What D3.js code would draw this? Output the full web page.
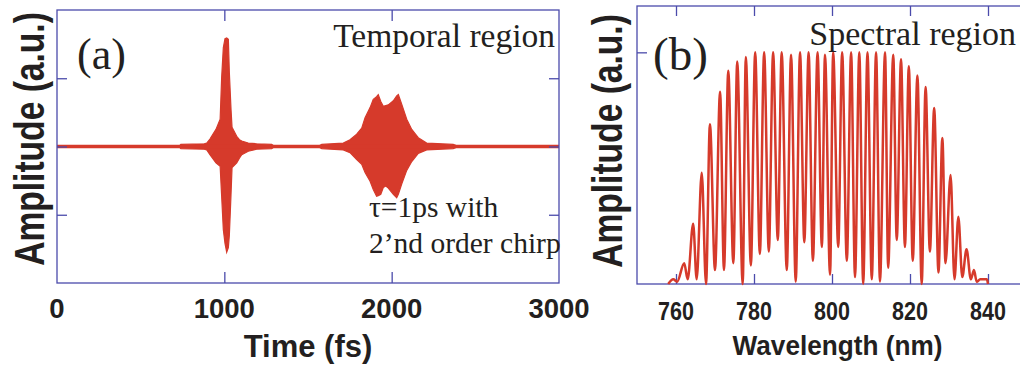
<!DOCTYPE html>
<html>
<head>
<meta charset="utf-8">
<script src="https://cdn.jsdelivr.net/npm/d3@7"></script>
<style>
  html, body { margin: 0; padding: 0; background: #fff; overflow: hidden; }
  svg { display: block; }
</style>
</head>
<body>
<svg id="chart" width="1020" height="367"></svg>
<script>
// (a) Temporal field: envelope of the fast carrier (time in fs, upper / lower bound in a.u.)
const pulseTime  = [0, 730, 740, 880, 895, 914, 950, 975, 984, 994, 1004, 1014, 1024, 1030, 1040, 1046,
                    1074, 1090, 1104, 1143, 1193, 1283, 1300, 1560, 1582, 1711, 1751, 1791, 1821, 1841,
                    1871, 1890, 1910, 1920, 1935, 1950, 1965, 1980, 2010, 2030, 2040, 2060, 2090, 2120,
                    2159, 2209, 2368, 2400, 3000];
const pulseUpper = [0, 0, 0.03, 0.04, 0.05, 0.11, 0.25, 0.40, 1.01, 1.45, 1.58, 1.59, 1.57, 1.08, 0.54, 0.28,
                    0.15, 0.10, 0.08, 0.05, 0.04, 0.03, 0, 0, 0.03, 0.05, 0.10, 0.18, 0.27, 0.42,
                    0.57, 0.69, 0.73, 0.76, 0.66, 0.59, 0.60, 0.61, 0.67, 0.74, 0.76, 0.62, 0.40, 0.25,
                    0.13, 0.05, 0.03, 0, 0];
const pulseLower = [0, 0, -0.03, -0.04, -0.05, -0.12, -0.24, -0.29, -0.73, -1.22, -1.42, -1.55, -1.48, -1.30, -0.70, -0.31,
                    -0.24, -0.17, -0.12, -0.07, -0.04, -0.03, 0, 0, -0.03, -0.05, -0.09, -0.19, -0.26, -0.38,
                    -0.51, -0.63, -0.73, -0.72, -0.70, -0.60, -0.58, -0.61, -0.70, -0.75, -0.70, -0.55, -0.35, -0.22,
                    -0.10, -0.05, -0.03, 0, 0];

// (b) Spectral fringes: successive maxima and minima (wavelength in nm, amplitude in a.u.)
const fringeWavelength = [758.0, 759.3, 760.3, 762.1, 763.0, 764.4, 765.3, 766.6, 767.7, 768.7, 770.0, 771.3,
                          772.3, 773.4, 774.7, 775.7, 777.1, 777.9, 779.2, 780.3, 781.5, 782.6, 783.8, 784.9,
                          786.1, 787.1, 788.4, 789.5, 790.7, 791.8, 792.9, 794.0, 795.1, 796.3, 797.4, 798.2,
                          799.5, 800.3, 801.6, 802.6, 803.8, 804.9, 805.9, 807.0, 808.0, 809.1, 810.2, 811.3,
                          812.3, 813.6, 814.4, 815.7, 816.6, 817.7, 818.7, 819.7, 820.7, 821.9, 823.0, 824.0,
                          825.1, 826.2, 827.3, 828.3, 829.1, 830.4, 831.4, 832.4, 833.4, 834.5, 835.6, 836.4,
                          837.1, 838.0, 839.7, 840.0];
const fringeAmplitude  = [0.00, 0.02, 0.01, 0.09, 0.02, 0.26, 0.02, 0.48, 0.00, 0.69, 0.06, 0.83,
                          0.06, 0.92, 0.09, 0.96, 0.00, 0.98, 0.08, 1.00, 0.13, 1.00, 0.14, 1.00,
                          0.19, 1.00, 0.06, 0.99, 0.01, 1.00, 0.18, 1.00, 0.10, 1.00, 0.16, 0.99,
                          0.04, 1.00, 0.16, 1.00, 0.10, 1.00, 0.03, 1.00, 0.00, 1.00, 0.02, 1.00,
                          0.01, 1.00, 0.07, 0.99, 0.19, 0.97, 0.16, 0.94, 0.10, 0.90, 0.00, 0.85,
                          0.14, 0.76, 0.05, 0.63, 0.09, 0.47, 0.02, 0.29, 0.03, 0.15, 0.02, 0.06,
                          0.01, 0.02, 0.02, 0.00];

// Axis ticks
const timeTicks = [0, 1000, 2000, 3000];
const timeInnerTicks = [1000, 2000];
const ampTicksA = [-1, 0, 1];
const wavelengthTicks = [760, 780, 800, 820, 840];
const ampTicksB = [1];

const RED = "#d63a2b";
const FRAME = "#4b4bab";
const INK = "#231f20";
const SANS = "'Liberation Sans', Arial, sans-serif";
const SERIF = "'Liberation Serif', 'Times New Roman', serif";

const svg = d3.select("#chart");
const defs = svg.append("defs");

// Bold sans label, optionally rotated and narrowed along its own direction
function sansLabel(g, x, y, txt, size, { rotate = 0, squeeze = 1, anchor = "middle" } = {}) {
  return g.append("text")
    .attr("transform", `translate(${x},${y}) rotate(${rotate}) scale(${squeeze},1)`)
    .attr("text-anchor", anchor)
    .attr("font-family", SANS).attr("font-weight", "bold").attr("font-size", size)
    .attr("fill", INK).text(txt);
}

function styleTicks(g) {
  g.select(".domain").remove();
  g.selectAll("line").attr("stroke", FRAME).attr("stroke-width", 1.3);
}

function frame(g, x, y) {
  const [x0, x1] = x.range();
  const [y0, y1] = y.range();
  g.append("rect")
    .attr("x", x0).attr("y", y1).attr("width", x1 - x0).attr("height", y0 - y1)
    .attr("fill", "none").attr("stroke", FRAME).attr("stroke-width", 1.3);
}

// ---------- Panel (a): temporal region ----------
const xA = d3.scaleLinear().domain([0, 3000]).range([57, 559]);
const yA = d3.scaleLinear().domain([-2, 2]).range([283, 10]);

defs.append("clipPath").attr("id", "clipA")
  .append("rect").attr("x", xA(0)).attr("y", yA(2))
  .attr("width", xA(3000) - xA(0)).attr("height", yA(-2) - yA(2));

const gA = svg.append("g");
const pulse = pulseTime.map((t, i) => ({ t, hi: pulseUpper[i], lo: pulseLower[i] }));

const plotA = gA.append("g").attr("clip-path", "url(#clipA)");
plotA.append("path")
  .datum(pulse)
  .attr("d", d3.area().x(d => xA(d.t)).y0(d => yA(d.lo)).y1(d => yA(d.hi)))
  .attr("fill", RED).attr("stroke", RED).attr("stroke-width", 1.2);
plotA.append("path")
  .datum(pulse)
  .attr("d", d3.line().x(d => xA(d.t)).y(() => yA(0)))
  .attr("fill", "none").attr("stroke", RED).attr("stroke-width", 3.5);

frame(gA, xA, yA);

gA.append("g").attr("transform", `translate(0,${yA(-2)})`)
  .call(d3.axisTop(xA).tickValues(timeInnerTicks).tickSize(11).tickFormat("")).call(styleTicks);
gA.append("g").attr("transform", `translate(0,${yA(2)})`)
  .call(d3.axisBottom(xA).tickValues(timeInnerTicks).tickSize(11).tickFormat("")).call(styleTicks);
gA.append("g").attr("transform", `translate(${xA(0)},0)`)
  .call(d3.axisRight(yA).tickValues(ampTicksA).tickSize(10).tickFormat("")).call(styleTicks);
gA.append("g").attr("transform", `translate(${xA(3000)},0)`)
  .call(d3.axisLeft(yA).tickValues(ampTicksA).tickSize(10).tickFormat("")).call(styleTicks);

timeTicks.forEach(d => sansLabel(gA, xA(d), 318, d, 27.5));
sansLabel(gA, 308, 357, "Time (fs)", 31);
sansLabel(gA, 44, 139, "Amplitude (a.u.)", 42, { rotate: -90, squeeze: 0.8 });

gA.append("text")
  .attr("x", 77).attr("y", 69)
  .attr("font-family", SERIF).attr("font-size", 44)
  .attr("fill", INK).text("(a)");
gA.append("text")
  .attr("x", 555).attr("y", 47).attr("text-anchor", "end")
  .attr("font-family", SERIF).attr("font-size", 33.5)
  .attr("fill", INK).text("Temporal region");
gA.append("text")
  .attr("x", 369).attr("y", 217)
  .attr("font-family", SERIF).attr("font-size", 29.5)
  .attr("fill", INK).text("τ=1ps with");
gA.append("text")
  .attr("x", 369).attr("y", 253)
  .attr("font-family", SERIF).attr("font-size", 29.5)
  .attr("fill", INK).text("2’nd order chirp");

// ---------- Panel (b): spectral region ----------
const xB = d3.scaleLinear().domain([750, 850]).range([637, 1027]);
const yB = d3.scaleLinear().domain([0, 1.2]).range([284, 6]);

defs.append("clipPath").attr("id", "clipB")
  .append("rect").attr("x", xB(750)).attr("y", yB(1.2) - 2)
  .attr("width", xB(850) - xB(750)).attr("height", yB(0) - yB(1.2) + 4);

const gB = svg.append("g");
const fringes = fringeWavelength.map((w, i) => ({ w, a: fringeAmplitude[i] }));

frame(gB, xB, yB);

gB.append("g").attr("transform", `translate(0,${yB(0)})`)
  .call(d3.axisTop(xB).tickValues(wavelengthTicks).tickSize(10).tickFormat("")).call(styleTicks);
gB.append("g").attr("transform", `translate(0,${yB(1.2)})`)
  .call(d3.axisBottom(xB).tickValues(wavelengthTicks).tickSize(10).tickFormat("")).call(styleTicks);
gB.append("g").attr("transform", `translate(${xB(750)},0)`)
  .call(d3.axisRight(yB).tickValues(ampTicksB).tickSize(10).tickFormat("")).call(styleTicks);

gB.append("g").attr("clip-path", "url(#clipB)")
  .append("path")
  .datum(fringes)
  .attr("d", d3.line().x(d => xB(d.w)).y(d => yB(d.a)).curve(d3.curveMonotoneX))
  .attr("fill", "none").attr("stroke", RED).attr("stroke-width", 2.5)
  .attr("stroke-linejoin", "round");

wavelengthTicks.forEach(d => sansLabel(gB, xB(d), 320, d, 25, { squeeze: 0.86 }));
sansLabel(gB, 837.5, 355, "Wavelength (nm)", 28, { squeeze: 0.935 });
sansLabel(gB, 622, 141, "Amplitude (a.u.)", 42, { rotate: -90, squeeze: 0.8 });

gB.append("text")
  .attr("x", 653).attr("y", 70)
  .attr("font-family", SERIF).attr("font-size", 47)
  .attr("fill", INK).text("(b)");
gB.append("text")
  .attr("x", 1016).attr("y", 45).attr("text-anchor", "end")
  .attr("font-family", SERIF).attr("font-size", 34)
  .attr("fill", INK).text("Spectral region");
</script>
</body>
</html>
